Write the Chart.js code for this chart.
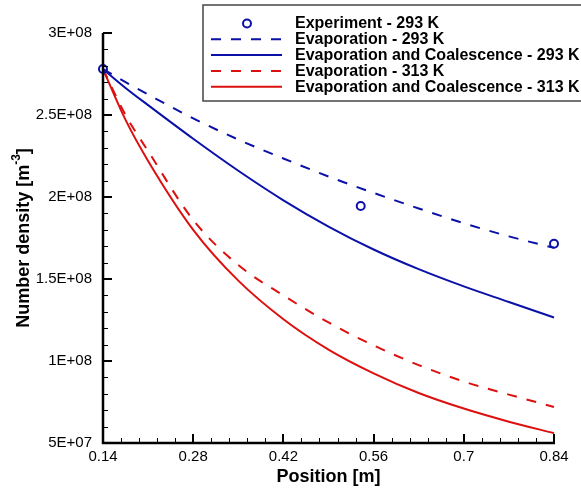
<!DOCTYPE html>
<html>
<head>
<meta charset="utf-8">
<script src="https://cdn.jsdelivr.net/npm/chart.js@4"></script>
<style>
  html, body { margin: 0; padding: 0; background: #fff; }
  #wrap { width: 581px; height: 491px; position: relative; }
</style>
</head>
<body>
<div id="wrap"><canvas id="chart"></canvas></div>
<script>
// Data
const positions = [0.14, 0.175, 0.21, 0.28, 0.35, 0.42, 0.49, 0.56, 0.63, 0.70, 0.77, 0.84];
const evap293 = [2.78e8, 2.70e8, 2.625e8, 2.48e8, 2.35e8, 2.235e8, 2.125e8, 2.025e8, 1.93e8, 1.84e8, 1.76e8, 1.69e8];
const coal293 = [2.78e8, 2.665e8, 2.56e8, 2.355e8, 2.16e8, 1.98e8, 1.82e8, 1.68e8, 1.56e8, 1.455e8, 1.36e8, 1.265e8];
const evap313 = [2.78e8, 2.50e8, 2.28e8, 1.86e8, 1.585e8, 1.40e8, 1.235e8, 1.095e8, 0.975e8, 0.875e8, 0.795e8, 0.72e8];
const coal313 = [2.78e8, 2.47e8, 2.22e8, 1.80e8, 1.49e8, 1.255e8, 1.07e8, 0.925e8, 0.805e8, 0.71e8, 0.63e8, 0.56e8];

const expPositions = [0.14, 0.54, 0.84];
const exp293 = [2.78e8, 1.945e8, 1.715e8];

const xTicks = [0.14, 0.28, 0.42, 0.56, 0.7, 0.84];
const yTicks = [5e7, 1e8, 1.5e8, 2e8, 2.5e8, 3e8];

const legendLabels = [
    'Experiment - 293 K',
    'Evaporation - 293 K',
    'Evaporation and Coalescence - 293 K',
    'Evaporation - 313 K',
    'Evaporation and Coalescence - 313 K'
];

const BLUE = '#0a10a8';
const RED = '#dd1010';
const FONT = '"Liberation Sans", Arial, Helvetica, sans-serif';

function toPoints(xs, ys) {
    return xs.map((x, i) => ({ x: x, y: ys[i] }));
}

function sciLabel(v) {
    const exp = Math.floor(Math.log10(v) + 1e-9);
    const mant = +(v / Math.pow(10, exp)).toFixed(2);
    return mant + 'E+' + String(exp).padStart(2, '0');
}

// axis lines, inward ticks, y title and the boxed legend
const decorPlugin = {
    id: 'decor',
    afterDatasetsDraw(chart) {
        const ctx = chart.ctx;
        const xs = chart.scales.x;
        const ys = chart.scales.y;
        const left = xs.getPixelForValue(0.14);
        const right = xs.getPixelForValue(0.84);
        const bottom = ys.getPixelForValue(5e7);
        const top = ys.getPixelForValue(3e8);

        ctx.save();
        ctx.strokeStyle = '#000';
        // minor ticks
        ctx.lineWidth = 1;
        ctx.beginPath();
        for (let v = 0.14; v < 0.84 + 1e-6; v += 0.028) {
            const px = Math.round(xs.getPixelForValue(v)) + 0.5;
            ctx.moveTo(px, bottom);
            ctx.lineTo(px, bottom - 5);
        }
        for (let v = 5e7; v < 3e8 + 1; v += 1e7) {
            const py = Math.round(ys.getPixelForValue(v)) + 0.5;
            ctx.moveTo(left, py);
            ctx.lineTo(left + 5, py);
        }
        ctx.stroke();
        // major ticks
        ctx.lineWidth = 2;
        ctx.beginPath();
        xTicks.forEach(v => {
            const px = Math.round(xs.getPixelForValue(v));
            ctx.moveTo(px, bottom);
            ctx.lineTo(px, bottom - 9);
        });
        yTicks.forEach(v => {
            const py = Math.round(ys.getPixelForValue(v));
            ctx.moveTo(left, py);
            ctx.lineTo(left + 9, py);
        });
        ctx.stroke();
        // axis lines
        ctx.lineWidth = 2.5;
        ctx.beginPath();
        ctx.moveTo(left, top);
        ctx.lineTo(left, bottom);
        ctx.lineTo(right + 1, bottom);
        ctx.stroke();

        // y axis title with superscript
        ctx.translate(24, 238);
        ctx.rotate(-Math.PI / 2);
        ctx.fillStyle = '#000';
        ctx.textBaseline = 'middle';
        const mainFont = 'bold 18px ' + FONT;
        const supFont = 'bold 12px ' + FONT;
        const p1 = 'Number density [m';
        const p2 = '-3';
        const p3 = ']';
        ctx.font = mainFont;
        const w1 = ctx.measureText(p1).width;
        const w3 = ctx.measureText(p3).width;
        ctx.font = supFont;
        const w2 = ctx.measureText(p2).width;
        let x0 = -(w1 + w2 + w3) / 2;
        ctx.font = mainFont;
        ctx.fillText(p1, x0, 0);
        ctx.font = supFont;
        ctx.fillText(p2, x0 + w1, -7);
        ctx.font = mainFont;
        ctx.fillText(p3, x0 + w1 + w2, 0);
        ctx.restore();

        // legend box (right edge runs off the canvas, as in the original)
        ctx.save();
        ctx.fillStyle = '#fff';
        ctx.fillRect(203, 5, 380, 96);
        ctx.strokeStyle = '#444';
        ctx.lineWidth = 1.5;
        ctx.strokeRect(203, 5, 380, 96);
        ctx.font = 'bold 16px ' + FONT;
        ctx.textBaseline = 'middle';
        chart.data.datasets.forEach((ds, i) => {
            const y = 23.5 + i * 15.8;
            if (ds.showLine === false) {
                ctx.beginPath();
                ctx.arc(247, y, 4, 0, Math.PI * 2);
                ctx.strokeStyle = ds.pointBorderColor;
                ctx.lineWidth = 2;
                ctx.stroke();
            } else {
                ctx.beginPath();
                ctx.setLineDash(ds.borderDash || []);
                ctx.strokeStyle = ds.borderColor;
                ctx.lineWidth = 2;
                ctx.moveTo(211, y);
                ctx.lineTo(282, y);
                ctx.stroke();
                ctx.setLineDash([]);
            }
            ctx.fillStyle = '#000';
            ctx.fillText(legendLabels[i], 295, y + 0.5);
        });
        ctx.restore();
    }
};

const lineDefaults = {
    pointRadius: 0,
    borderWidth: 2,
    fill: false,
    cubicInterpolationMode: 'monotone',
    clip: false
};

new Chart(document.getElementById('chart'), {
    type: 'line',
    data: {
        datasets: [
            {
                label: legendLabels[0],
                data: toPoints(expPositions, exp293),
                showLine: false,
                pointRadius: 4,
                pointBorderWidth: 2,
                pointBorderColor: BLUE,
                pointBackgroundColor: 'rgba(0,0,0,0)',
                clip: false
            },
            Object.assign({ label: legendLabels[1], data: toPoints(positions, evap293), borderColor: BLUE, borderDash: [10, 10] }, lineDefaults),
            Object.assign({ label: legendLabels[2], data: toPoints(positions, coal293), borderColor: BLUE }, lineDefaults),
            Object.assign({ label: legendLabels[3], data: toPoints(positions, evap313), borderColor: RED, borderDash: [10, 10] }, lineDefaults),
            Object.assign({ label: legendLabels[4], data: toPoints(positions, coal313), borderColor: RED }, lineDefaults)
        ]
    },
    options: {
        responsive: true,
        maintainAspectRatio: false,
        animation: false,
        events: [],
        layout: { padding: { top: 33, right: 27, left: 0, bottom: 0 } },
        plugins: {
            legend: { display: false },
            tooltip: { enabled: false }
        },
        scales: {
            x: {
                type: 'linear',
                min: 0.14,
                max: 0.84,
                border: { display: false },
                grid: { display: false, drawTicks: false },
                afterBuildTicks: scale => { scale.ticks = xTicks.map(v => ({ value: v })); },
                afterFit: scale => { scale.height = 48; },
                ticks: {
                    padding: 5,
                    color: '#000',
                    font: { family: FONT, size: 15 },
                    callback: v => String(v)
                },
                title: {
                    display: true,
                    text: 'Position [m]',
                    color: '#000',
                    font: { family: FONT, size: 18, weight: 'bold' },
                    padding: { top: 0, bottom: 3 }
                }
            },
            y: {
                type: 'linear',
                min: 5e7,
                max: 3e8,
                border: { display: false },
                grid: { display: false, drawTicks: false },
                afterBuildTicks: scale => { scale.ticks = yTicks.map(v => ({ value: v })); },
                afterFit: scale => { scale.width = 103; },
                ticks: {
                    padding: 11,
                    color: '#000',
                    font: { family: FONT, size: 15 },
                    callback: v => sciLabel(v)
                }
            }
        }
    },
    plugins: [decorPlugin]
});
</script>
</body>
</html>
